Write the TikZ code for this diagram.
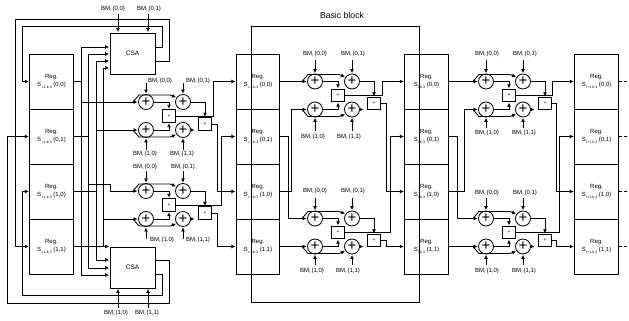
\documentclass[tikz,border=0pt]{standalone}
\usepackage{fontspec}
\setmainfont{Liberation Sans}
\usetikzlibrary{arrows.meta}

\newcommand{\lowsub}[1]{\raisebox{-1.6pt}{\fontsize{3.6}{4}\selectfont #1}}

\tikzset{
    regbox/.style={draw, minimum width=43.5pt, minimum height=55pt, inner sep=0pt, align=center, font=\fontsize{6}{8}\selectfont},
    csabox/.style={draw, minimum width=45pt, minimum height=41pt, inner sep=0pt, font=\fontsize{6.5}{8}\selectfont},
    adder/.style={circle, draw, minimum size=15pt, inner sep=0pt, font=\fontsize{15}{15}\selectfont},
    cmpbox/.style={draw, minimum size=12.5pt, inner sep=0pt, font=\fontsize{5}{6}\selectfont},
    bmtext/.style={inner sep=0pt, font=\fontsize{6}{7}\selectfont},
    tailwire/.style={dashed, dash pattern=on 3pt off 2pt, line width=1.1pt}
}

% one add-compare unit: prefix, x, y
\newcommand{\acsunit}[3]{
    \node[adder] (#11) at (#2, #3) {+};
    \node[adder] (#12) at (#2+37, #3) {+};
    \node[adder] (#13) at (#2, #3+28) {+};
    \node[adder] (#14) at (#2+37, #3+28) {+};
    \node[cmpbox] (#15) at (#2+23, #3+14) {+};
    \node[cmpbox] (#16) at (#2+59, #3+22) {+};
    \coordinate (#1ia) at (#2-13, #3);
    \coordinate (#1ib) at (#2-13, #3+28);
    \coordinate (#1out) at (#2+49, #3+28);
    \draw[->] (#1ia) -- (#11);
    \draw[->] (#1ib) -- (#13);
    \draw[->] (#1ia) -- ++(6,-7) -- ++(31,0) -- (#12.145);
    \draw[->] (#1ib) -- ++(6,7) -- ++(31,0) -- (#14.215);
    \draw[->] (#11) -| (#15);
    \draw[->] (#13) -| (#15);
    \draw[->] (#12) -| (#16);
    \draw[->] (#14) -- (#1out);
}

% metric label and its arrow: adder, label x, label y, index, arrow start y
\newcommand{\bmin}[5]{
    \node[bmtext] (lab#1) at (#2, #3) {BM\lowsub{\,i}\,(#4)};
    \coordinate (start#1) at (#1 |- 0,#5);
    \draw[->] (start#1) -- (#1);
}

\begin{document}
\begin{tikzpicture}[x=1pt, y=-1pt, line width=0.85pt, >={Latex[length=4pt,width=4pt]}, shorten >=0.5pt]
    \useasboundingbox (0,0) rectangle (629,321);

    % registers
    \foreach \c/\x/\sub in {p/51.5/{i-1,k-3}, q/258/{i-1,k-3}, r/426.5/{i,k-3}, s/596.5/{i+1,k-3}} {
        \foreach \i/\y/\st in {1/81.5/{0,0}, 2/136.5/{0,1}, 3/191.5/{1,0}, 4/246.5/{1,1}} {
            \node[regbox] (\c\i) at (\x, \y) {Reg.\\S\lowsub{\,\sub}\ (\st)};
        }
    }

    \node[csabox] (csaA) at (132.5, 53.5) {CSA};
    \node[csabox] (csaB) at (132.5, 267.5) {CSA};

    \acsunit{a}{146}{102}
    \acsunit{b}{146}{191}
    \acsunit{c}{315}{81.5}
    \acsunit{d}{315}{218.5}
    \acsunit{e}{486}{81.5}
    \acsunit{f}{486}{218.5}

    % basic block frame
    \node[draw, minimum width=168pt, minimum height=276pt] (block) at (335, 164) {};
    \node[inner sep=0pt, font=\fontsize{8.7}{10}\selectfont] (blocktitle) at (342, 15) {Basic block};

    % metrics
    \bmin{a1}{160}{81}{0,0}{83}
    \bmin{a2}{198}{81}{0,1}{83}
    \bmin{a3}{145}{154}{1,0}{150}
    \bmin{a4}{182}{154}{1,1}{150}
    \bmin{b1}{145}{167}{0,0}{171}
    \bmin{b2}{183}{167}{0,1}{171}
    \bmin{b3}{162}{240}{1,0}{239}
    \bmin{b4}{198}{240}{1,1}{239}
    \bmin{c1}{315}{54}{0,0}{60}
    \bmin{c2}{353}{54}{0,1}{60}
    \bmin{c3}{313}{137}{1,0}{131}
    \bmin{c4}{349}{137}{1,1}{131}
    \bmin{d1}{315}{191}{0,0}{198}
    \bmin{d2}{353}{191}{0,1}{198}
    \bmin{d3}{312}{271}{1,0}{265}
    \bmin{d4}{348}{271}{1,1}{265}
    \bmin{e1}{487}{54}{0,0}{60}
    \bmin{e2}{525}{54}{0,1}{60}
    \bmin{e3}{487}{133}{1,0}{128}
    \bmin{e4}{524}{133}{1,1}{128}
    \bmin{f1}{487}{193}{0,0}{198}
    \bmin{f2}{525}{193}{0,1}{198}
    \bmin{f3}{487}{271}{1,0}{265}
    \bmin{f4}{524}{271}{1,1}{265}

    % CSA metrics
    \node[bmtext] (bmA1) at (113, 9) {BM\lowsub{\,i}\,(0,0)};
    \node[bmtext] (bmA2) at (149, 9) {BM\lowsub{\,i}\,(0,1)};
    \node[bmtext] (bmB1) at (116, 313) {BM\lowsub{\,i}\,(1,0)};
    \node[bmtext] (bmB2) at (147, 313) {BM\lowsub{\,i}\,(1,1)};
    \coordinate (inA1) at (118, 14);
    \coordinate (inA2) at (148, 14);
    \coordinate (inB1) at (118, 308);
    \coordinate (inB2) at (148, 308);
    \draw[->] (inA1) -- (inA1 |- csaA.north);
    \draw[->] (inA2) -- (inA2 |- csaA.north);
    \draw[->] (inB1) -- (inB1 |- csaB.south);
    \draw[->] (inB2) -- (inB2 |- csaB.south);

    % first column buses
    \foreach \i/\bx/\ya/\yb in {1/81/47/275, 2/88/54/268, 3/96/61/260, 4/103/68/246.5} {
        \coordinate (bus\i) at (\bx, 0);
        \coordinate (csaAi\i) at (csaA.west |- 0,\ya);
        \coordinate (csaBi\i) at (csaB.west |- 0,\yb);
        \draw[->] (p\i) -| (bus\i |- csaAi\i) -- (csaAi\i);
        \draw[->] (p\i) -| (bus\i |- csaBi\i) -- (csaBi\i);
    }

    \draw (bus1 |- aia) -- (aia);
    \draw (bus3 |- aib) -- (aib);
    \draw (bus4 |- bib) -- (bib);
    \coordinate (jog) at (110, 184);
    \draw (bus2 |- jog) -- (jog) |- (bia);

    % feedback
    \coordinate (csaAo1) at (csaA.east |- 0,47);
    \coordinate (csaAo2) at (csaA.east |- 0,61);
    \coordinate (csaBo1) at (csaB.east |- 0,260);
    \coordinate (csaBo2) at (csaB.east |- 0,274);
    \coordinate (fbA1) at (162, 26);
    \coordinate (fbA2) at (169, 19);
    \coordinate (fbB1) at (169, 303);
    \coordinate (fbB2) at (162, 295);
    \coordinate (leftA1) at (22, 26);
    \coordinate (leftA2) at (15, 19);
    \coordinate (leftB1) at (7, 303);
    \coordinate (leftB2) at (22, 295);
    \draw[->] (csaAo1) -| (fbA1) -- (leftA1) |- (p1);
    \draw[->] (csaAo2) -| (fbA2) -- (leftA2) |- (p4);
    \draw[->] (csaBo1) -| (fbB1) -- (leftB1) |- (p2);
    \draw[->] (csaBo2) -| (fbB2) -- (leftB2) |- (p3);

    % registers into units
    \foreach \c/\ua/\ub/\xs/\xt in {q/c/d/288/291, r/e/f/457/464} {
        \draw (\c1) -- (\ua ia);
        \draw (\c2) -| (\xs,0 |- \ub ia) -- (\ub ia);
        \draw (\c3) -| (\xt,0 |- \ua ib) -- (\ua ib);
        \draw (\c4) -- (\ub ib);
    }

    % units into registers
    \foreach \ua/\ub/\c/\xa/\xb/\xc in {a/b/q/213/217/221, c/d/r/382/386/390, e/f/s/552/556/559} {
        \draw[->] (\ua5) -| (\xa,0 |- \c1) -- (\c1);
        \draw[->] (\ua6) -| (\xb,0 |- \c3) -- (\c3);
        \draw[->] (\ub5) -| (\xc,0 |- \c2) -- (\c2);
        \draw[->] (\ub6) -| (\xb,0 |- \c4) -- (\c4);
    }

    % open ends
    \foreach \i in {1,2,3,4} {
        \coordinate (tail\i) at (629,0 |- s\i);
        \draw[tailwire] (s\i) -- (tail\i);
    }
\end{tikzpicture}
\end{document}
